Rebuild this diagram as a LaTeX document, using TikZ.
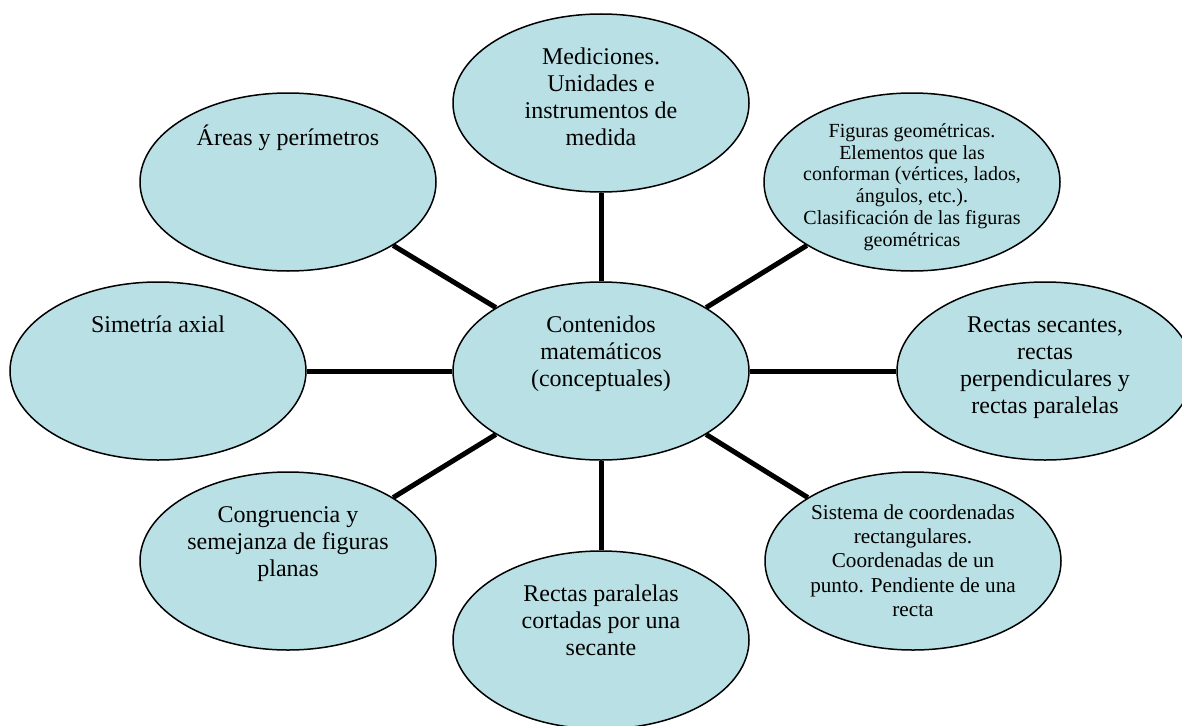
\documentclass[tikz,border=0pt]{standalone}
\usepackage{fontspec}
\setmainfont{Liberation Serif}
\usetikzlibrary{shapes.geometric,positioning}

\definecolor{topicfill}{RGB}{185,224,228}
% text sits near the top of each oval
\newcommand{\ovaltext}[4]{\parbox[c][#3][t]{220pt}{\centering\fontsize{#1}{#2}\selectfont\strut#4}}

\begin{document}
\begin{tikzpicture}[x=1pt,y=-1pt,on grid,
  topic/.style={ellipse,draw=black,line width=1.5pt,fill=topicfill,minimum width=296pt,minimum height=178pt,inner xsep=-8pt,inner ysep=0pt},
  link/.style={line width=5pt}]

  \clip (0,0) rectangle (1182,725);

  \node[topic] (main) at (601,371) {\ovaltext{24}{27}{114pt}{Contenidos\\matemáticos\\(conceptuales)}};
  \node[topic] (med) [above=268pt of main] {\ovaltext{24}{27}{114pt}{Mediciones.\\Unidades e\\instrumentos de\\medida}};
  \node[topic] (areas) [above left=189pt and 313pt of main] {\ovaltext{24}{27}{114pt}{Áreas y perímetros}};
  \node[topic] (sim) [left=443pt of main] {\ovaltext{24}{27}{114pt}{Simetría axial}};
  \node[topic] (cong) [below left=190pt and 313pt of main] {\ovaltext{24}{27}{114pt}{Congruencia y\\semejanza de figuras\\planas}};
  \node[topic] (par) [below=269pt of main] {\ovaltext{24}{27}{114pt}{Rectas paralelas\\cortadas por una\\secante}};
  \node[topic] (sis) [below right=190pt and 312pt of main] {\ovaltext{21.2}{24.4}{118pt}{Sistema de coordenadas\\rectangulares.\\Coordenadas de un\\punto. Pendiente de una\\recta}};
  \node[topic] (sec) [right=444pt of main] {\ovaltext{24}{27}{114pt}{Rectas secantes,\\rectas\\perpendiculares y\\rectas paralelas}};
  \node[topic] (fig) [above right=189pt and 311pt of main] {\ovaltext{20}{21.8}{120pt}{Figuras geométricas.\\Elementos que las\\conforman (vértices, lados,\\ángulos, etc.).\\Clasificación de las figuras\\geométricas}};

  \draw[link] (main.north) -- (med.south);
  \draw[link] (main.north west) -- (areas.south east);
  \draw[link] (main.west) -- (sim.east);
  \draw[link] (main.south west) -- (cong.north east);
  \draw[link] (main.south) -- (par.north);
  \draw[link] (main.south east) -- (sis.north west);
  \draw[link] (main.east) -- (sec.west);
  \draw[link] (main.north east) -- (fig.south west);

\end{tikzpicture}
\end{document}
